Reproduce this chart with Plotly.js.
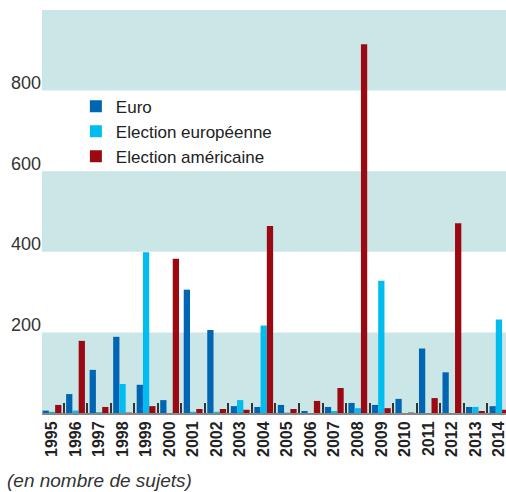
<!DOCTYPE html>
<html>
<head>
<meta charset="utf-8">
<script src="https://cdn.plot.ly/plotly-3.0.1.min.js"></script>
<style>
html,body{margin:0;padding:0;background:#fff;overflow:hidden;}
#chart{width:506px;height:492px;}
</style>
</head>
<body>
<div id="chart"></div>
<script>
const years = ['1995','1996','1997','1998','1999','2000','2001','2002','2003','2004','2005','2006','2007','2008','2009','2010','2011','2012','2013','2014'];
const euro = [6, 47, 107, 189, 70, 32, 306, 206, 17, 15, 20, 5, 15, 25, 20, 35, 160, 101, 15, 17];
const electionEuropeenne = [3, 6, 2, 72, 399, 0, 3, 3, 32, 217, 1, 0, 5, 12, 328, 0, 0, 0, 15, 232];
const electionAmericaine = [20, 179, 15, 1, 17, 383, 10, 10, 8, 464, 10, 30, 62, 915, 12, 1, 37, 471, 5, 8];
const seriesNames = ['Euro', 'Election européenne', 'Election américaine'];
const yTicks = [200, 400, 600, 800];
const bandRanges = [[0, 200], [400, 600], [800, 1000]];
const footnote = '(en nombre de sujets)';

const colors = ['#0066b3', '#00bcef', '#9b0a12'];
const FONT = '"Liberation Sans", Arial, sans-serif';

const traces = [euro, electionEuropeenne, electionAmericaine].map((vals, i) => ({
  type: 'bar',
  name: seriesNames[i],
  x: years,
  y: vals,
  marker: {color: colors[i], line: {width: 0}}
}));

const shapes = bandRanges.map(r => ({
  type: 'rect', layer: 'below', xref: 'paper', yref: 'y',
  x0: 0, x1: 1, y0: r[0], y1: r[1],
  fillcolor: '#cae6e6', line: {width: 0}
}));

const layout = {
  width: 506, height: 492,
  margin: {l: 42, r: 0, t: 10, b: 79},
  paper_bgcolor: '#fff', plot_bgcolor: '#fff',
  barmode: 'group', bargap: 0.2, bargroupgap: 0,
  font: {family: FONT, color: '#333'},
  showlegend: true,
  legend: {
    x: 0.073, xanchor: 'left', y: 0.805, yanchor: 'top',
    bgcolor: 'rgba(0,0,0,0)', borderwidth: 0,
    font: {family: FONT, size: 17, color: '#222'},
    tracegroupgap: 0
  },
  xaxis: {
    type: 'category',
    range: [-0.425, 19.3],
    showgrid: false, zeroline: false,
    showline: true, linecolor: '#888', linewidth: 2,
    ticks: 'inside', tickson: 'boundaries', ticklen: 10, tickwidth: 2, tickcolor: '#333',
    tickangle: -90,
    tickfont: {family: FONT, size: 16, color: '#222', weight: 'bold'},
    fixedrange: true
  },
  yaxis: {
    range: [0, 1000],
    tickvals: yTicks,
    ticktext: yTicks.map(String),
    showgrid: false, zeroline: false, showline: false,
    ticks: '',
    ticklabelshift: -8,
    tickfont: {family: FONT, size: 18, color: '#333'},
    fixedrange: true
  },
  shapes: shapes,
  annotations: [{
    text: footnote,
    xref: 'paper', yref: 'paper',
    x: -0.079, xanchor: 'left',
    y: -0.168, yanchor: 'middle',
    showarrow: false,
    font: {family: FONT, size: 19, color: '#333', style: 'italic'}
  }]
};

Plotly.newPlot('chart', traces, layout, {displayModeBar: false, staticPlot: true});
</script>
</body>
</html>
